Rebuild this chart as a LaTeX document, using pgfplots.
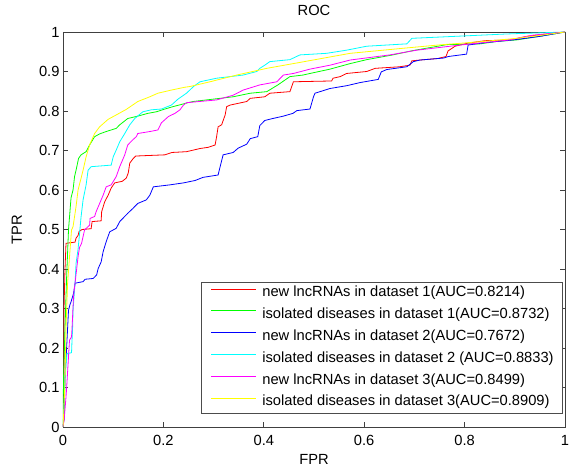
\documentclass[border=0pt]{standalone}
\usepackage{fontspec}
\setmainfont{Liberation Sans}
\usepackage{pgfplots}
\pgfplotsset{compat=1.18}
\definecolor{mred}{rgb}{1,0,0}
\definecolor{mgreen}{rgb}{0,1,0}
\definecolor{mblue}{rgb}{0,0,1}
\definecolor{mcyan}{rgb}{0,1,1}
\definecolor{mmag}{rgb}{1,0,1}
\definecolor{myel}{rgb}{1,1,0}
\newcommand{\ff}{\fontsize{14.7}{17}\selectfont}
\begin{document}
\begin{tikzpicture}
\begin{axis}[
  scale only axis, width=502pt, height=395pt,
  xmin=0, xmax=1, ymin=0, ymax=1,
  xtick={0,0.2,0.4,0.6,0.8,1},
  ytick={0,0.1,0.2,0.3,0.4,0.5,0.6,0.7,0.8,0.9,1},
  tick align=inside, major tick length=5pt,
  axis line style={black!75}, every tick/.style={black!75, line width=0.6pt},
  /pgf/number format/assume math mode=true,
  tick label style={font=\ff},
  xticklabel style={anchor=base, yshift=-19pt},
  title={ROC}, xlabel={FPR}, ylabel={TPR},
  title style={at={(axis description cs:0.5,1.0263)}, anchor=base, font=\ff},
  xlabel style={at={(axis description cs:0.5,-0.0937)}, anchor=base, font=\ff},
  ylabel style={at={(axis description cs:-0.0817,0.5)}, anchor=base, rotate=0, font=\ff},
  legend cell align=left,
  legend style={at={(rel axis cs:0.996,0.035)}, anchor=south east, draw=black!70, line width=0.6pt,
    font=\ff, fill=white, inner xsep=9pt, inner ysep=4pt, row sep=7.8pt, column sep=6pt,
    nodes={inner sep=0pt, text height=11pt, text depth=3pt}},
  legend image code/.code={\draw[#1, line width=0.6pt] (0pt,4pt) -- (45pt,4pt);},
  every axis plot/.append style={line width=0.8pt},
]
\coordinate (ll) at (rel axis cs:0,0);
\coordinate (ur) at (rel axis cs:1,1);
\addplot[mred] coordinates {(0,0) (0.002,0.02) (0.002,0.30) (0.004,0.40) (0.006,0.465) (0.024,0.468) (0.026,0.478) (0.030,0.485) (0.032,0.495) (0.038,0.500) (0.056,0.502) (0.058,0.520) (0.076,0.522) (0.077,0.545) (0.083,0.570) (0.090,0.587) (0.096,0.605) (0.103,0.618) (0.118,0.622) (0.126,0.630) (0.130,0.643) (0.133,0.668) (0.140,0.680) (0.145,0.686) (0.203,0.689) (0.217,0.695) (0.246,0.697) (0.273,0.705) (0.289,0.708) (0.303,0.714) (0.306,0.735) (0.309,0.760) (0.316,0.765) (0.323,0.790) (0.326,0.811) (0.333,0.815) (0.366,0.824) (0.373,0.832) (0.402,0.836) (0.412,0.845) (0.452,0.849) (0.459,0.874) (0.535,0.876) (0.538,0.883) (0.552,0.887) (0.565,0.895) (0.605,0.900) (0.622,0.908) (0.671,0.912) (0.691,0.916) (0.695,0.927) (0.711,0.929) (0.747,0.933) (0.763,0.938) (0.767,0.952) (0.781,0.964) (0.807,0.972) (0.841,0.978) (0.890,0.980) (0.924,0.989) (1,1)};
\addlegendentry{new lncRNAs in dataset 1(AUC=0.8214)}
\addplot[mgreen] coordinates {(0,0) (0.001,0.12) (0.004,0.25) (0.007,0.372) (0.011,0.50) (0.016,0.58) (0.020,0.60) (0.023,0.634) (0.026,0.650) (0.031,0.680) (0.036,0.689) (0.046,0.697) (0.053,0.714) (0.063,0.735) (0.073,0.742) (0.086,0.748) (0.096,0.752) (0.106,0.756) (0.113,0.765) (0.129,0.781) (0.149,0.787) (0.169,0.794) (0.186,0.798) (0.203,0.805) (0.219,0.811) (0.249,0.821) (0.259,0.824) (0.339,0.836) (0.373,0.845) (0.406,0.849) (0.428,0.866) (0.452,0.887) (0.478,0.891) (0.492,0.895) (0.532,0.906) (0.572,0.920) (0.605,0.930) (0.657,0.942) (0.697,0.953) (0.747,0.964) (0.764,0.968) (0.831,0.970) (0.864,0.976) (0.904,0.980) (0.950,0.989) (1,1)};
\addlegendentry{isolated diseases in dataset 1(AUC=0.8732)}
\addplot[mblue] coordinates {(0,0) (0.002,0.02) (0.004,0.12) (0.007,0.195) (0.011,0.296) (0.014,0.310) (0.016,0.317) (0.021,0.338) (0.024,0.364) (0.040,0.368) (0.044,0.374) (0.060,0.376) (0.067,0.385) (0.070,0.401) (0.076,0.418) (0.080,0.444) (0.086,0.469) (0.093,0.494) (0.106,0.503) (0.113,0.520) (0.129,0.541) (0.139,0.553) (0.149,0.566) (0.166,0.575) (0.173,0.587) (0.180,0.608) (0.213,0.613) (0.240,0.618) (0.263,0.624) (0.279,0.632) (0.309,0.638) (0.313,0.659) (0.319,0.689) (0.339,0.695) (0.349,0.706) (0.366,0.716) (0.373,0.730) (0.388,0.735) (0.392,0.763) (0.402,0.776) (0.418,0.781) (0.439,0.787) (0.458,0.794) (0.466,0.801) (0.492,0.805) (0.499,0.836) (0.502,0.845) (0.532,0.857) (0.565,0.864) (0.592,0.872) (0.628,0.880) (0.634,0.899) (0.645,0.905) (0.685,0.912) (0.698,0.925) (0.711,0.929) (0.758,0.934) (0.768,0.938) (0.804,0.944) (0.807,0.967) (0.840,0.973) (0.897,0.980) (0.950,0.989) (1,1)};
\addlegendentry{new lncRNAs in dataset 2(AUC=0.7672)}
\addplot[mcyan] coordinates {(0,0) (0.002,0.05) (0.004,0.12) (0.006,0.16) (0.008,0.186) (0.017,0.188) (0.018,0.22) (0.019,0.245) (0.020,0.296) (0.024,0.364) (0.026,0.414) (0.030,0.450) (0.033,0.490) (0.036,0.532) (0.040,0.575) (0.046,0.613) (0.050,0.650) (0.056,0.659) (0.076,0.661) (0.096,0.663) (0.100,0.684) (0.106,0.701) (0.113,0.722) (0.123,0.743) (0.133,0.765) (0.143,0.781) (0.159,0.798) (0.176,0.803) (0.196,0.805) (0.216,0.815) (0.229,0.830) (0.246,0.845) (0.260,0.862) (0.273,0.874) (0.306,0.883) (0.359,0.891) (0.386,0.900) (0.392,0.908) (0.402,0.916) (0.412,0.925) (0.452,0.930) (0.472,0.942) (0.525,0.946) (0.565,0.954) (0.605,0.964) (0.685,0.970) (0.695,0.984) (0.764,0.988) (0.884,0.995) (1,1)};
\addlegendentry{isolated diseases in dataset 2 (AUC=0.8833)}
\addplot[mmag] coordinates {(0,0) (0.003,0.03) (0.005,0.06) (0.007,0.094) (0.009,0.136) (0.012,0.20) (0.013,0.22) (0.017,0.228) (0.018,0.25) (0.021,0.330) (0.024,0.364) (0.030,0.431) (0.033,0.455) (0.037,0.465) (0.040,0.482) (0.043,0.499) (0.053,0.511) (0.054,0.528) (0.063,0.533) (0.066,0.545) (0.073,0.566) (0.080,0.587) (0.086,0.608) (0.096,0.613) (0.106,0.634) (0.113,0.659) (0.123,0.689) (0.129,0.714) (0.139,0.727) (0.146,0.735) (0.149,0.743) (0.173,0.748) (0.189,0.752) (0.196,0.770) (0.210,0.786) (0.223,0.794) (0.233,0.803) (0.240,0.815) (0.246,0.821) (0.306,0.828) (0.339,0.840) (0.359,0.853) (0.392,0.866) (0.426,0.874) (0.439,0.891) (0.459,0.895) (0.492,0.906) (0.532,0.916) (0.572,0.929) (0.651,0.942) (0.705,0.954) (0.791,0.967) (0.890,0.980) (0.936,0.992) (1,1)};
\addlegendentry{new lncRNAs in dataset 3(AUC=0.8499)}
\addplot[myel] coordinates {(0,0) (0.002,0.05) (0.004,0.119) (0.006,0.25) (0.009,0.360) (0.013,0.431) (0.017,0.499) (0.020,0.507) (0.026,0.558) (0.030,0.600) (0.040,0.650) (0.046,0.684) (0.053,0.714) (0.063,0.743) (0.073,0.760) (0.090,0.779) (0.106,0.790) (0.126,0.804) (0.149,0.824) (0.173,0.836) (0.189,0.845) (0.216,0.853) (0.242,0.860) (0.253,0.862) (0.293,0.874) (0.346,0.891) (0.406,0.908) (0.472,0.923) (0.572,0.946) (0.671,0.958) (0.747,0.967) (0.837,0.976) (0.904,0.984) (0.960,0.993) (1,1)};
\addlegendentry{isolated diseases in dataset 3(AUC=0.8909)}
\end{axis}
\pgfresetboundingbox
\path ([shift={(-63pt,-41pt)}]ll) rectangle ([shift={(6pt,32pt)}]ur);
\end{tikzpicture}
\end{document}
